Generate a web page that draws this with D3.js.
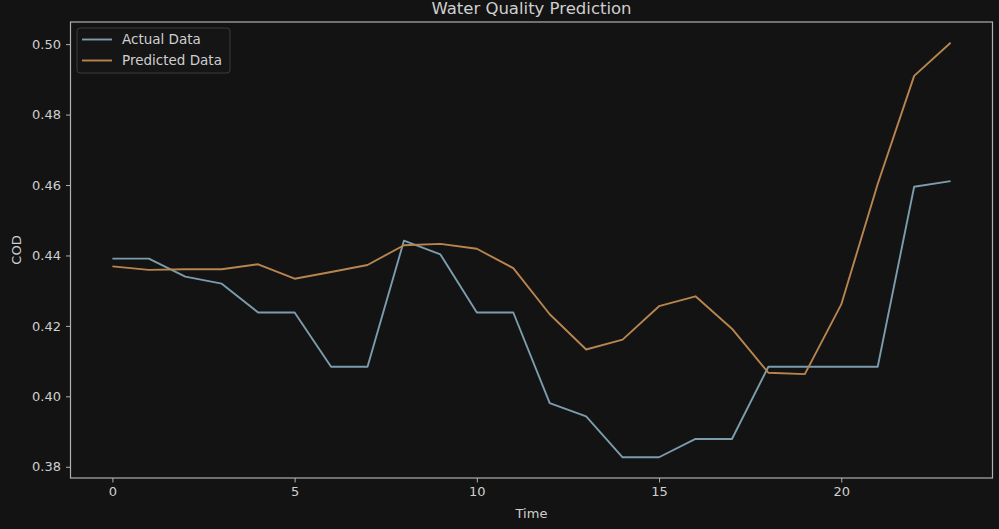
<!DOCTYPE html>
<html>
<head>
<meta charset="utf-8">
<script src="https://cdn.jsdelivr.net/npm/d3@7"></script>
<style>
  html, body { margin: 0; padding: 0; background: #131313; }
  svg { display: block; }
  text { font-family: "DejaVu Sans", sans-serif; fill: #cfcfcf; }
</style>
</head>
<body>
<svg id="chart" width="999" height="529"></svg>
<script>
const timeSteps = d3.range(0, 24);
const actualData = [0.4391, 0.4391, 0.4340, 0.4320, 0.4238, 0.4238, 0.4084, 0.4084,
                    0.4442, 0.4403, 0.4238, 0.4238, 0.3981, 0.3943, 0.3827, 0.3827,
                    0.3879, 0.3879, 0.4084, 0.4084, 0.4084, 0.4084, 0.4595, 0.4611];
const predictedData = [0.4369, 0.4359, 0.4361, 0.4361, 0.4375, 0.4334, 0.4353, 0.4373,
                       0.4429, 0.4433, 0.4419, 0.4364, 0.4233, 0.4133, 0.4161, 0.4256,
                       0.4284, 0.4192, 0.4067, 0.4063, 0.4261, 0.4603, 0.4910, 0.5004];
const xTicks = [0, 5, 10, 15, 20];
const yTicks = [0.38, 0.40, 0.42, 0.44, 0.46, 0.48, 0.50];
const seriesNames = ["Actual Data", "Predicted Data"];
const seriesColors = ["#7b9cad", "#b8854f"];

const svg = d3.select("#chart");
const mLeft = 70.5, mRight = 992.5, mTop = 22, mBottom = 478;

// matplotlib-like autoscale with 5% margins
const xMin = d3.min(timeSteps), xMax = d3.max(timeSteps);
const xPad = (xMax - xMin) * 0.05;
const allY = actualData.concat(predictedData);
const yMin = d3.min(allY), yMax = d3.max(allY);
const yPad = (yMax - yMin) * 0.05;

const x = d3.scaleLinear().domain([xMin - xPad, xMax + xPad]).range([mLeft, mRight]);
const y = d3.scaleLinear().domain([yMin - yPad, yMax + yPad]).range([mBottom, mTop]);

// axes
const xAxis = svg.append("g").attr("transform", `translate(0,${mBottom})`)
  .call(d3.axisBottom(x).tickValues(xTicks).tickFormat(d3.format("d")).tickSize(4.5).tickPadding(4));
const yAxis = svg.append("g").attr("transform", `translate(${mLeft},0)`)
  .call(d3.axisLeft(y).tickValues(yTicks).tickFormat(d3.format(".2f")).tickSize(4.5).tickPadding(5));
[xAxis, yAxis].forEach(g => {
  g.select(".domain").remove();
  g.selectAll(".tick line").attr("stroke", "#b0b0b0").attr("stroke-width", 1);
  g.selectAll(".tick text").attr("fill", "#cfcfcf").style("font-size", "13px")
    .style("font-family", "'DejaVu Sans', sans-serif");
});

// frame
svg.append("rect").attr("x", mLeft).attr("y", mTop)
  .attr("width", mRight - mLeft).attr("height", mBottom - mTop)
  .attr("fill", "none").attr("stroke", "#b0b0b0").attr("stroke-width", 1.2);

// lines
const line = d3.line().x((d, i) => x(timeSteps[i])).y(d => y(d));
[actualData, predictedData].forEach((data, k) => {
  svg.append("path").datum(data)
    .attr("fill", "none").attr("stroke", seriesColors[k])
    .attr("stroke-width", 1.9).attr("stroke-linejoin", "round")
    .attr("d", line);
});

// title and labels
svg.append("text").attr("x", (mLeft + mRight) / 2).attr("y", 13.5)
  .attr("text-anchor", "middle").style("font-size", "16.5px").text("Water Quality Prediction");
svg.append("text").attr("x", (mLeft + mRight) / 2).attr("y", 518)
  .attr("text-anchor", "middle").style("font-size", "13px").text("Time");
svg.append("text").attr("transform", `translate(21,${(mTop + mBottom) / 2}) rotate(-90)`)
  .attr("text-anchor", "middle").style("font-size", "13px").text("COD");

// legend
const legend = svg.append("g");
legend.append("rect").attr("x", 77).attr("y", 28).attr("width", 153).attr("height", 45)
  .attr("rx", 3).attr("fill", "#151515").attr("stroke", "#3c3c3c").attr("stroke-width", 1);
seriesNames.forEach((name, k) => {
  const yy = 39.5 + k * 21;
  legend.append("line").attr("x1", 82).attr("x2", 112).attr("y1", yy).attr("y2", yy)
    .attr("stroke", seriesColors[k]).attr("stroke-width", 1.9);
  legend.append("text").attr("x", 122).attr("y", yy + 4.8)
    .style("font-size", "13.5px").text(name);
});
</script>
</body>
</html>
